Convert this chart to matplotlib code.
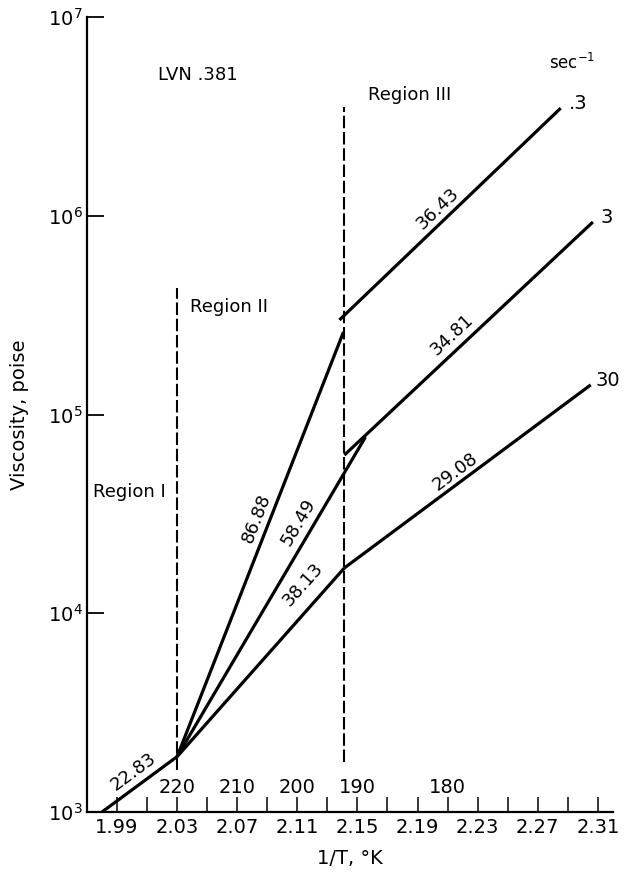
import numpy as np
import matplotlib
matplotlib.use('Agg')
import matplotlib.pyplot as plt
import matplotlib.transforms as mtransforms

# 1/T axis and viscosity values
x_ticks = [1.99, 2.03, 2.07, 2.11, 2.15, 2.19, 2.23, 2.27, 2.31]
x_minor = [2.01, 2.05, 2.09, 2.13, 2.17, 2.21, 2.25, 2.29]
temp_labels = ['220', '210', '200', '190', '180']
temp_pos = [2.03, 2.07, 2.11, 2.15, 2.21]

# region I (common line)
reg1_x = [1.98, 2.03]
reg1_y = [1.0e3, 1.9e3]

# region II, one line per shear rate
reg2_x = {'.3': [2.03, 2.1407], '3': [2.03, 2.1553], '30': [2.03, 2.1413]}
reg2_y = {'.3': [1.9e3, 2.60e5], '3': [1.9e3, 7.7e4], '30': [1.9e3, 1.69e4]}

# region III
reg3_x = {'.3': [2.138, 2.2853], '3': [2.1413, 2.3067], '30': [2.1413, 2.3053]}
reg3_y = {'.3': [2.99e5, 3.48e6], '3': [6.25e4, 9.3e5], '30': [1.69e4, 1.41e5]}

# activation energies written on the lines
reg1_E = '22.83'
reg2_E = {'.3': '86.88', '3': '58.49', '30': '38.13'}
reg3_E = {'.3': '36.43', '3': '34.81', '30': '29.08'}

boundary_x = [2.03, 2.1413]
boundary_y = [[1.62e3, 4.33e5], [1.78e3, 3.52e6]]

plt.rcParams['font.family'] = ['DejaVu Sans']
fig = plt.figure(figsize=(6.26, 8.73), dpi=100)
ax = fig.add_axes([0.139, 0.0699, 0.840, 0.9106])
ax.set_yscale('log')
ax.set_xlim(1.97, 2.32)
ax.set_ylim(1e3, 1e7)

for s in ['top', 'right']:
    ax.spines[s].set_visible(False)
for s in ['left', 'bottom']:
    ax.spines[s].set_linewidth(1.6)

ax.set_yticks([1e3, 1e4, 1e5, 1e6, 1e7])
ax.yaxis.set_minor_locator(matplotlib.ticker.NullLocator())
ax.tick_params(axis='y', which='major', direction='in', length=12, width=1.3,
               labelsize=14, pad=3)
ax.set_xticks(x_ticks)
ax.set_xticklabels(['%.2f' % v for v in x_ticks])
ax.set_xticks(x_minor, minor=True)
ax.tick_params(axis='x', which='both', direction='in', length=11, width=1.1,
               labelsize=14, pad=4)

lw = 2.3
ax.plot(reg1_x, reg1_y, color='black', lw=lw, solid_capstyle='butt')
for k in ['.3', '3', '30']:
    ax.plot(reg2_x[k], reg2_y[k], color='black', lw=lw, solid_capstyle='butt')
    ax.plot(reg3_x[k], reg3_y[k], color='black', lw=lw, solid_capstyle='butt')

for bx, by in zip(boundary_x, boundary_y):
    ax.plot([bx, bx], by, color='black', lw=1.5, dashes=(6, 1.8))

def line_angle(xs, ys):
    p = ax.transData.transform(np.column_stack([xs, ys]))
    return np.degrees(np.arctan2(p[1, 1] - p[0, 1], p[1, 0] - p[0, 0]))

fs = 13
ax.text(2.0007, 1.59e3, reg1_E, fontsize=fs, ha='center', va='center',
        rotation=line_angle(reg1_x, reg1_y), rotation_mode='anchor')
lab2 = {'.3': (2.0827, 3.01e4), '3': (2.1107, 2.88e4), '30': (2.114, 1.39e4)}
lab3 = {'.3': (2.2033, 1.09e6), '3': (2.2127, 2.51e5), '30': (2.2153, 5.14e4)}
for k in ['.3', '3', '30']:
    ax.text(*lab2[k], reg2_E[k], fontsize=fs, ha='center', va='center',
            rotation=line_angle(reg2_x[k], reg2_y[k]), rotation_mode='anchor')
    ax.text(*lab3[k], reg3_E[k], fontsize=fs, ha='center', va='center',
            rotation=line_angle(reg3_x[k], reg3_y[k]), rotation_mode='anchor')

# shear rate labels at the line ends
ax.text(2.2907, 3.69e6, '.3', fontsize=14, va='center')
ax.text(2.312, 9.75e5, '3', fontsize=14, va='center')
ax.text(2.3087, 1.49e5, '30', fontsize=14, va='center')
ax.text(2.2773, 5.86e6, 'sec$^{-1}$', fontsize=12, va='center')

ax.text(2.0173, 5.1e6, 'LVN .381', fontsize=13, va='center')
ax.text(2.1567, 4.06e6, 'Region III', fontsize=13, va='center')
ax.text(2.0387, 3.47e5, 'Region II', fontsize=13, va='center')
ax.text(1.974, 4.07e4, 'Region I', fontsize=13, va='center')

trans = mtransforms.blended_transform_factory(ax.transData, ax.transAxes)
for t, xp in zip(temp_labels, temp_pos):
    ax.text(xp, 0.031, t, fontsize=14, ha='center', va='center', transform=trans)

ax.set_xlabel('1/T, °K', fontsize=14, labelpad=9)
ax.set_ylabel('Viscosity, poise', fontsize=14, labelpad=14)

fig.savefig('out.png', dpi=100)
